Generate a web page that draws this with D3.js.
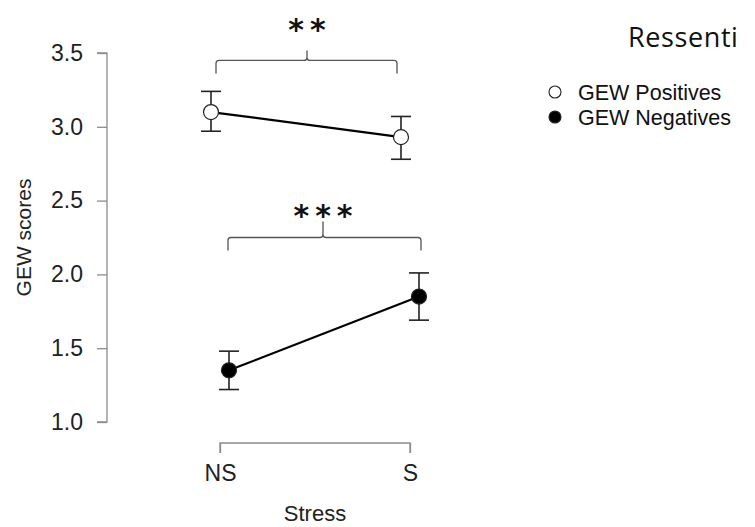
<!DOCTYPE html>
<html><head><meta charset="utf-8">
<script src="https://cdn.jsdelivr.net/npm/d3@7"></script>
<style>body{margin:0;background:#fff}</style>
</head><body><svg id="c" width="755" height="527"></svg>
<script>
const categories = ["NS", "S"];
const seriesNames = ["GEW Positives", "GEW Negatives"];
const positivesMean = [3.10, 2.93];
const positivesLow  = [2.97, 2.78];
const positivesHigh = [3.24, 3.07];
const negativesMean = [1.35, 1.85];
const negativesLow  = [1.22, 1.69];
const negativesHigh = [1.48, 2.01];
const yTicks = [1.0, 1.5, 2.0, 2.5, 3.0, 3.5];
const sigLabels = ["**", "***"];
const sigLevels = [3.45, 2.25];

const svg = d3.select("#c");
const font = "'Liberation Sans', Arial, sans-serif";
const y = d3.scaleLinear().domain([1, 3.5]).range([422, 53]);
const x = d3.scalePoint().domain(categories).range([220, 410]);
const dodge = [-9, 9];

// y axis
const ya = svg.append("g").attr("transform", "translate(107,0)")
  .call(d3.axisLeft(y).tickValues(yTicks).tickFormat(d3.format(".1f")).tickSize(10).tickPadding(14));
ya.select(".domain").attr("stroke", "#8c8c8c").attr("stroke-width", 1.3).attr("d", `M-10,${y(3.5)}H0V${y(1)}H-10`);
ya.selectAll(".tick line").attr("stroke", "#8c8c8c").attr("stroke-width", 1.3);
ya.selectAll(".tick text").attr("font-family", font).attr("font-size", 23).attr("fill", "#222");

// x axis
const xa = svg.append("g").attr("transform", "translate(0,443)")
  .call(d3.axisBottom(x).tickSize(10).tickPadding(12));
xa.select(".domain").attr("stroke", "#8c8c8c").attr("stroke-width", 1.3).attr("d", `M${x("NS")},10V0H${x("S")}V10`);
xa.selectAll(".tick line").attr("stroke", "#8c8c8c").attr("stroke-width", 1.3);
xa.selectAll(".tick text").attr("font-family", font).attr("font-size", 23).attr("fill", "#222");

svg.append("text").attr("x", 315).attr("y", 521).attr("text-anchor", "middle")
  .attr("font-family", font).attr("font-size", 22).attr("fill", "#222").text("Stress");
svg.append("text").attr("transform", `translate(31,${(y(1) + y(3.5)) / 2}) rotate(-90)`)
  .attr("text-anchor", "middle").attr("font-family", font).attr("font-size", 21).attr("fill", "#222").text("GEW scores");

// series
const series = [
  {name: seriesNames[0], mean: positivesMean, lo: positivesLow, hi: positivesHigh, fill: "#fff"},
  {name: seriesNames[1], mean: negativesMean, lo: negativesLow, hi: negativesHigh, fill: "#000"}
];
series.forEach((s, si) => {
  const g = svg.append("g");
  const px = categories.map(c => x(c) + dodge[si]);
  g.append("path").attr("fill", "none").attr("stroke", "#000").attr("stroke-width", 2.2)
    .attr("d", d3.line()(categories.map((c, i) => [px[i], y(s.mean[i])])));
  categories.forEach((c, i) => {
    g.append("line").attr("x1", px[i]).attr("x2", px[i]).attr("y1", y(s.lo[i])).attr("y2", y(s.hi[i]))
      .attr("stroke", "#222").attr("stroke-width", 1.6);
    [s.lo[i], s.hi[i]].forEach(v => g.append("line").attr("x1", px[i] - 10).attr("x2", px[i] + 10)
      .attr("y1", y(v)).attr("y2", y(v)).attr("stroke", "#222").attr("stroke-width", 1.6));
    g.append("circle").attr("cx", px[i]).attr("cy", y(s.mean[i])).attr("r", 7.5)
      .attr("fill", s.fill).attr("stroke", "#222").attr("stroke-width", 1.2);
  });
});

// significance brackets
const bracketEnds = [[-4, -13], [8, 11]];
const bracketMid = [307, 323];
sigLevels.forEach((lv, k) => {
  const x1 = x(categories[0]) + bracketEnds[k][0];
  const x2 = x(categories[1]) + bracketEnds[k][1];
  const yl = y(lv);
  const xm = bracketMid[k];
  const r = 3;
  const up = k === 0 ? 10 : 16;
  const d = `M${x1},${yl + 13}V${yl + r}Q${x1},${yl} ${x1 + r},${yl}H${xm - r}Q${xm},${yl} ${xm},${yl - r}V${yl - up}` +
            `M${xm},${yl - r}Q${xm},${yl} ${xm + r},${yl}H${x2 - r}Q${x2},${yl} ${x2},${yl + r}V${yl + 13}`;
  svg.append("path").attr("d", d).attr("fill", "none").attr("stroke", "#555").attr("stroke-width", 1.3);
  svg.append("text").attr("x", xm + 3).attr("y", yl - (k === 0 ? 20 : 12)).attr("text-anchor", "middle")
    .attr("font-family", "'DejaVu Sans', sans-serif").attr("font-weight", "bold").attr("font-size", 30)
    .attr("letter-spacing", 6).attr("fill", "#111").text(sigLabels[k]);
});

// legend
svg.append("text").attr("x", 628).attr("y", 47).attr("font-family", "'Open Sans', Lato, sans-serif")
  .attr("font-size", 27).attr("letter-spacing", 0.6).attr("fill", "#111").text("Ressenti");
series.forEach((s, si) => {
  const ly = 92 + si * 25;
  svg.append("circle").attr("cx", 555).attr("cy", ly).attr("r", 6).attr("fill", s.fill)
    .attr("stroke", "#222").attr("stroke-width", 1.1);
  svg.append("text").attr("x", 578).attr("y", ly + 8).attr("font-family", font).attr("font-size", 21.5)
    .attr("fill", "#111").text(s.name);
});
</script></body></html>
